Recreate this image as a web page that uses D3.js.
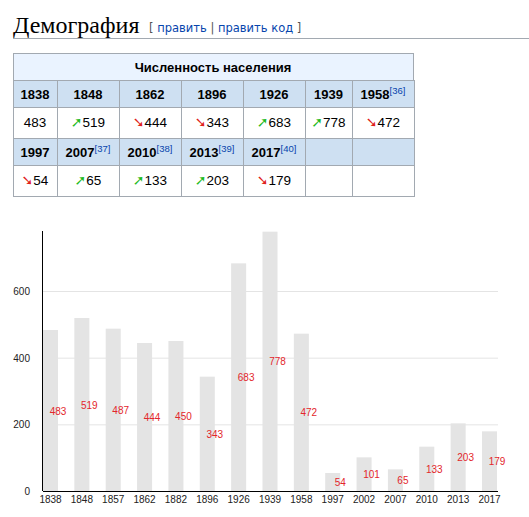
<!DOCTYPE html>
<html><head><meta charset="utf-8">
<script src="https://cdn.jsdelivr.net/npm/d3@7"></script>
<style>body{margin:0;background:#fff}svg{display:block}</style>
</head><body><svg id="c" width="529" height="517"></svg>
<script>
// table data
const tblYears1 = ["1838","1848","1862","1896","1926","1939","1958"];
const tblRefs1  = ["","","","","","","[36]"];
const tblVals1  = ["483","519","444","343","683","778","472"];
const tblDir1   = ["","up","down","down","up","up","down"];
const tblYears2 = ["1997","2007","2010","2013","2017","",""];
const tblRefs2  = ["","[37]","[38]","[39]","[40]","",""];
const tblVals2  = ["54","65","133","203","179","",""];
const tblDir2   = ["down","up","up","up","down","",""];
// chart data
const years  = ["1838","1848","1857","1862","1882","1896","1926","1939","1958","1997","2002","2007","2010","2013","2017"];
const values = [483,519,487,444,450,343,683,778,472,54,101,65,133,203,179];
const yTicks = [0,200,400,600];

const svg = d3.select("#c");
svg.append("text").attr("x",13).attr("y",33).attr("font-family","Liberation Serif, serif").attr("font-size",24).attr("fill","#000").text("Демография");
const ed = svg.append("text").attr("x",149).attr("y",32).attr("font-family","DejaVu Sans, sans-serif").attr("font-size",11.5);
ed.append("tspan").attr("fill","#555").text("[ ");
ed.append("tspan").attr("fill","#0645ad").text("править");
ed.append("tspan").attr("fill","#555").text(" | ");
ed.append("tspan").attr("fill","#0645ad").text("править код");
ed.append("tspan").attr("fill","#555").text(" ]");
svg.append("line").attr("x1",13).attr("x2",529).attr("y1",38.5).attr("y2",38.5).attr("stroke","#a2a9b1");

const cols=[13,57,119,181,243,305,352,414];
const rows=[53,80,107,138,165,196];
const F="Liberation Sans, Arial, sans-serif";
svg.append("rect").attr("x",13.5).attr("y",53.5).attr("width",400).attr("height",27).attr("fill","#eaf3ff").attr("stroke","#a2a9b1");
svg.append("text").attr("x",213).attr("y",72).attr("text-anchor","middle").attr("font-family",F).attr("font-weight","bold").attr("font-size",13).text("Численность населения");
function hdrRow(y0,y1,yrs,refs){
  yrs.forEach((t,i)=>{
    svg.append("rect").attr("x",cols[i]+.5).attr("y",y0+.5).attr("width",cols[i+1]-cols[i]).attr("height",y1-y0).attr("fill","#cee0f2").attr("stroke","#a2a9b1");
    const tx=svg.append("text").attr("x",(cols[i]+cols[i+1])/2).attr("y",y0+19).attr("text-anchor","middle").attr("font-family",F).attr("font-weight","bold").attr("font-size",13);
    tx.append("tspan").text(t);
    if(refs[i]) tx.append("tspan").attr("dy",-5).attr("font-size",9.5).attr("font-weight","normal").attr("fill","#0645ad").text(refs[i]);
  });
}
function valRow(y0,y1,vals,dirs){
  vals.forEach((t,i)=>{
    svg.append("rect").attr("x",cols[i]+.5).attr("y",y0+.5).attr("width",cols[i+1]-cols[i]).attr("height",y1-y0).attr("fill","#fff").attr("stroke","#a2a9b1");
    const tx=svg.append("text").attr("x",(cols[i]+cols[i+1])/2).attr("y",y0+20).attr("text-anchor","middle").attr("font-family",F).attr("font-size",13.5);
    if(dirs[i]) tx.append("tspan").attr("font-weight","bold").attr("fill",dirs[i]=="up"?"#1dba1d":"#e0201a").attr("font-family","DejaVu Sans").attr("font-size",14).text(dirs[i]=="up"?"➚":"➘");
    tx.append("tspan").text(t);
  });
}
hdrRow(rows[1],rows[2],tblYears1,tblRefs1);
valRow(rows[2],rows[3],tblVals1,tblDir1);
hdrRow(rows[3],rows[4],tblYears2,tblRefs2);
valRow(rows[4],rows[5],tblVals2,tblDir2);

const x0=43,x1=498,yb=491,yt=231;
const y=d3.scaleLinear().domain([0,778]).range([yb,yb-778/3]);
const step=(482-43)/14, bw=15;
const bx=i=>x0+i*step;
const g=svg.append("g");
yTicks.filter(d=>d>0).forEach(d=>g.append("line").attr("x1",x0).attr("x2",x1).attr("y1",y(d)+.5).attr("y2",y(d)+.5).attr("stroke","#e4e4e4"));
g.selectAll(".bar").data(values).join("rect").attr("x",(d,i)=>bx(i)).attr("width",bw).attr("y",d=>y(d)).attr("height",d=>yb-y(d)).attr("fill","#e4e4e4");
g.selectAll(".lbl").data(values).join("text").attr("x",(d,i)=>bx(i)+bw).attr("y",d=>y(d/2)+4).attr("text-anchor","middle").attr("font-family",F).attr("font-size",10).attr("fill","#e3262b").text(d=>d);
g.append("line").attr("x1",x0-.5).attr("x2",x0-.5).attr("y1",yt).attr("y2",yb).attr("stroke","#000");
g.append("line").attr("x1",x0).attr("x2",x1).attr("y1",yb+.5).attr("y2",yb+.5).attr("stroke","#000");
yTicks.forEach(d=>g.append("text").attr("x",30).attr("y",y(d)+4).attr("text-anchor","end").attr("font-family",F).attr("font-size",10).attr("fill","#222").text(d));
years.forEach((t,i)=>g.append("text").attr("x",bx(i)+bw/2).attr("y",yb+12).attr("text-anchor","middle").attr("font-family",F).attr("font-size",10).attr("fill","#222").text(t));
</script></body></html>
